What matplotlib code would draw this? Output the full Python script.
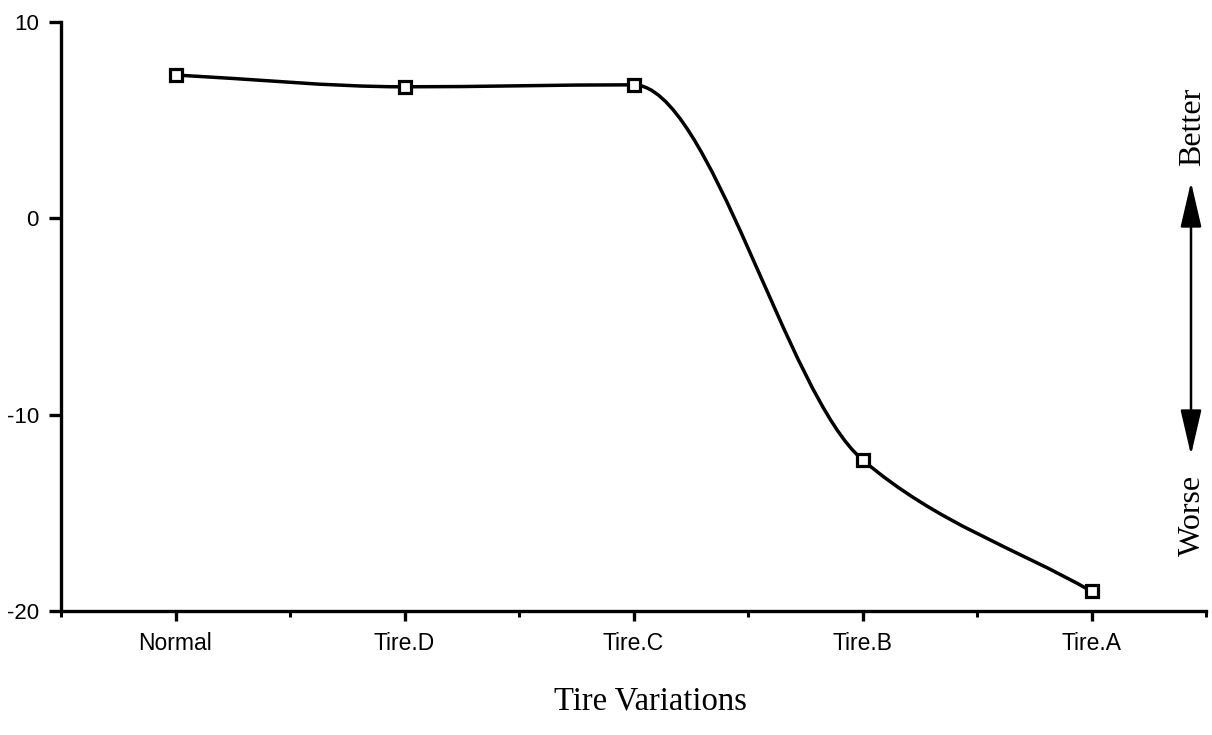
import numpy as np
import matplotlib
matplotlib.use("Agg")
import matplotlib.pyplot as plt
from matplotlib.path import Path
from matplotlib.patches import PathPatch, FancyArrowPatch, ArrowStyle

# Data
categories = ["Normal", "Tire.D", "Tire.C", "Tire.B", "Tire.A"]
scores = [7.3, 6.7, 6.8, -12.3, -19.0]
y_ticks = [10, 0, -10, -20]

SANS = "Liberation Sans"
SERIF = "Liberation Serif"

fig = plt.figure(figsize=(12.12, 7.35), dpi=100)
ax = fig.add_axes([61 / 1212, 1 - 611 / 735, (1206 - 61) / 1212, (611 - 22) / 735])

# categories sit on odd positions, minor ticks on even ones
xpos = np.arange(1, 2 * len(categories), 2, dtype=float)
yvals = np.array(scores, dtype=float)

# monotone cubic Hermite slopes (Fritsch-Carlson), secant slopes at the ends
h = np.diff(xpos)
delta = np.diff(yvals) / h
m = np.zeros_like(yvals)
m[0], m[-1] = delta[0], delta[-1]
for i in range(1, len(yvals) - 1):
    if delta[i - 1] * delta[i] <= 0:
        m[i] = 0.0
    else:
        w1 = 2 * h[i] + h[i - 1]
        w2 = h[i] + 2 * h[i - 1]
        m[i] = (w1 + w2) / (w1 / delta[i - 1] + w2 / delta[i])

# smooth curve as cubic Bezier segments in data space
verts = [(xpos[0], yvals[0])]
codes = [Path.MOVETO]
for i in range(len(xpos) - 1):
    d = h[i] / 3
    verts += [(xpos[i] + d, yvals[i] + m[i] * d),
              (xpos[i + 1] - d, yvals[i + 1] - m[i + 1] * d),
              (xpos[i + 1], yvals[i + 1])]
    codes += [Path.CURVE4] * 3
ax.add_patch(PathPatch(Path(verts, codes), facecolor="none",
                       edgecolor="black", lw=2.5, capstyle="round", zorder=2))

ax.plot(xpos, yvals, linestyle="none", marker="s", markersize=9,
        markerfacecolor="white", markeredgecolor="black",
        markeredgewidth=2.3, zorder=3)

ax.set_xlim(0, 2 * len(categories))
ax.set_ylim(-20, 10)

for side in ("top", "right"):
    ax.spines[side].set_visible(False)
for side in ("left", "bottom"):
    ax.spines[side].set_linewidth(2.4)
    ax.spines[side].set_color("black")

ax.set_xticks(xpos)
ax.set_xticklabels(categories, fontsize=16.5, family=SANS)
ax.set_xticks(np.arange(0, 2 * len(categories) + 1, 2), minor=True)
ax.tick_params(axis="x", which="major", direction="out", length=7,
               width=2.4, pad=8)
ax.tick_params(axis="x", which="minor", direction="out", length=4,
               width=2.2)

ax.set_yticks(y_ticks)
ax.set_yticklabels([str(v) for v in y_ticks], fontsize=16, family=SANS)
ax.tick_params(axis="y", which="major", direction="out", length=9,
               width=2.4, pad=7)

fig.text(650 / 1212, 1 - 701 / 735, "Tire Variations", family=SERIF,
         fontsize=23.5, ha="center", va="center")

# Better / Worse indicator on the right
arrow = FancyArrowPatch((1191 / 1212, 1 - 455 / 735), (1191 / 1212, 1 - 182 / 735),
                        transform=fig.transFigure,
                        arrowstyle=ArrowStyle("<|-|>", head_length=28, head_width=6.5),
                        color="black", lw=1.8, shrinkA=0, shrinkB=0)
fig.patches.append(arrow)
fig.text(1193 / 1212, 1 - 127 / 735, "Better", family=SERIF, fontsize=23,
         rotation=90, ha="center", va="center")
fig.text(1192 / 1212, 1 - 515 / 735, "Worse", family=SERIF, fontsize=23,
         rotation=90, ha="center", va="center")

fig.savefig("out.png", dpi=100, facecolor="white")
